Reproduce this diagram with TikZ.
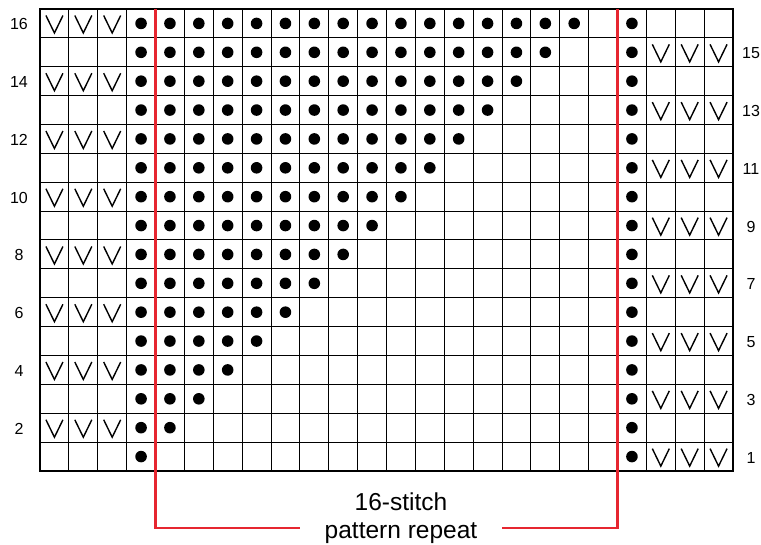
\documentclass[tikz,border=0pt]{standalone}
\usepackage{fontspec}
\setmainfont{Liberation Sans}
\definecolor{repred}{RGB}{230,38,48}
\begin{document}
\begin{tikzpicture}[x=1pt,y=-1pt,
  gridline/.style={line width=1pt, black},
  border/.style={line width=2pt, black},
  stdot/.style={fill=black, draw=none},
  vmark/.style={line width=1.4pt, line join=miter, line cap=butt},
  redline/.style={line width=2.2pt, repred},
  rowlab/.style={font=\fontsize{16}{18}\selectfont, inner sep=0pt},
  caption/.style={font=\fontsize{24.5}{27}\selectfont, inner sep=0pt, anchor=base}]
\useasboundingbox (0,0) rectangle (761,545);
\def\cs{28.875}
% grid lines
\foreach \i in {1,...,23} \draw[gridline] ({40+\i*\cs},9) -- ({40+\i*\cs},471);
\foreach \j in {1,...,15} \draw[gridline] (40,{9+\j*\cs}) -- (733,{9+\j*\cs});
% symbols
\foreach \t in {0,...,15} {
  \pgfmathtruncatemacro\r{16-\t}
  \pgfmathsetmacro\cy{9+(\t+0.5)*\cs}
  \pgfmathsetmacro\top{9+\t*\cs}
  \fill[stdot] ({40+3.5*\cs},\cy) circle (5.8pt);
  \fill[stdot] ({40+20.5*\cs},\cy) circle (5.8pt);
  \pgfmathtruncatemacro\n{\r-1}
  \ifnum\n>0
    \foreach \c in {1,...,\n} \fill[stdot] ({40+(3.5+\c)*\cs},\cy) circle (5.8pt);
  \fi
  \pgfmathtruncatemacro\ev{mod(\r,2)}
  \ifnum\ev=0
    \foreach \c in {0,1,2} \draw[vmark] ({40+(\c+0.5)*\cs-8.5},{\top+6.5}) -- ({40+(\c+0.5)*\cs},{\top+24}) -- ({40+(\c+0.5)*\cs+8.5},{\top+6.5});
    \node[rowlab] (lab\r) at (19,{\cy+1}) {\r};
  \else
    \foreach \c in {21,22,23} \draw[vmark] ({40+(\c+0.5)*\cs-8.5},{\top+6.5}) -- ({40+(\c+0.5)*\cs},{\top+24}) -- ({40+(\c+0.5)*\cs+8.5},{\top+6.5});
    \node[rowlab] (lab\r) at (751,{\cy+1}) {\r};
  \fi
}
% border
\draw[border] (40,9) rectangle (733,471);
% repeat brackets
\coordinate (lt) at (155.5,9);
\coordinate (lb) at (155.5,528);
\coordinate (le) at (300,528);
\coordinate (rt) at (617.5,9);
\coordinate (rb) at (617.5,528);
\coordinate (re) at (502,528);
\draw[redline] (lt) -- (lb) -- (le);
\draw[redline] (rt) -- (rb) -- (re);
\node[caption] (cap1) at (401,510) {16-stitch};
\node[caption] (cap2) at (401,538) {pattern repeat};
\end{tikzpicture}
\end{document}
